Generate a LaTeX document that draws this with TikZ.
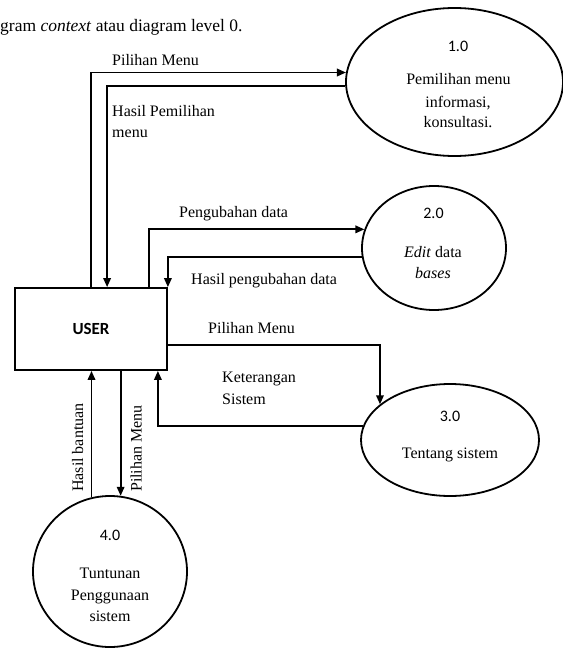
\documentclass[tikz,border=0pt]{standalone}
\usepackage{fontspec}
\setmainfont{Liberation Serif}
\newfontfamily\numfont{Carlito}
\usetikzlibrary{shapes.geometric,arrows.meta}
\begin{document}
\begin{tikzpicture}[x=1pt,y=-1pt,
  flow/.style={line width=1.8pt,-{Triangle[length=9pt,width=7.5pt]}},
  proc/.style={ellipse,draw,line width=1.8pt,inner sep=0pt},
  entity/.style={draw,line width=1.8pt,inner sep=0pt,font=\numfont\bfseries\fontsize{17}{21}\selectfont},
  lbl/.style={inner sep=0pt,font=\fontsize{16}{21}\selectfont},
  num/.style={inner sep=0pt,font=\numfont\fontsize{16}{21}\selectfont}]
\useasboundingbox (0,0) rectangle (562,658);

\node[lbl,anchor=base west,font=\fontsize{17.5}{21}\selectfont] (intro) at (0,32) {gram \textit{context} atau diagram level 0.};

% entity and processes
\node[entity,minimum width=152pt,minimum height=82pt] (user) at (91,329) {USER};
\node[proc,minimum width=217pt,minimum height=148pt] (e1) at (454.5,82) {};
\node[proc,minimum width=144pt,minimum height=124pt] (e2) at (434,248) {};
\node[proc,minimum width=178pt,minimum height=112pt] (e3) at (450,440) {};
\node[proc,minimum width=154pt,minimum height=151pt] (e4) at (110,571.5) {};

% process texts
\node[num,anchor=base] (t1a) at (458,52) {1.0};
\node[lbl,anchor=base] (t1b) at (458.5,85) {Pemilihan menu};
\node[lbl,anchor=base] (t1c) at (458,107) {informasi,};
\node[lbl,anchor=base] (t1d) at (458,128) {konsultasi.};

\node[num,anchor=base] (t2a) at (433.5,218) {2.0};
\node[lbl,anchor=base] (t2b) at (433,257) {\textit{Edit} data};
\node[lbl,anchor=base] (t2c) at (433,278) {\textit{bases}};

\node[num,anchor=base] (t3a) at (450,421) {3.0};
\node[lbl,anchor=base] (t3b) at (450,458) {Tentang sistem};

\node[num,anchor=base] (t4a) at (110,540) {4.0};
\node[lbl,anchor=base] (t4b) at (110,578) {Tuntunan};
\node[lbl,anchor=base] (t4c) at (110,600) {Penggunaan};
\node[lbl,anchor=base] (t4d) at (110,621) {sistem};

% flows
\draw[flow] ([xshift=77pt]user.north west) |- (e1.175);
\draw[flow] (e1.182) -| ([xshift=93pt]user.north west);
\draw[flow] ([xshift=135pt]user.north west) |- (e2.165);
\draw[flow] (e2.187) -| (user.north east);
\draw[flow] ([yshift=-16pt]user.east) -| (e3.153);
\draw[flow] (e3.171) -| ([xshift=-10pt]user.south east);
\draw[flow] (e4.104) -- (e4.104 |- user.south);
\draw[flow] (e4.82 |- user.south) -- (e4.82);

% flow labels
\node[lbl,anchor=base west] (f1) at (112,66) {Pilihan Menu};
\node[lbl,anchor=base west] (f2a) at (112,117) {Hasil Pemilihan};
\node[lbl,anchor=base west] (f2b) at (112,138) {menu};
\node[lbl,anchor=base west] (f3) at (179,217) {Pengubahan data};
\node[lbl,anchor=base west] (f4) at (191,284) {Hasil pengubahan data};
\node[lbl,anchor=base west] (f5) at (208,333) {Pilihan Menu};
\node[lbl,anchor=base west] (f6a) at (222,382) {Keterangan};
\node[lbl,anchor=base west] (f6b) at (222,404) {Sistem};
\node[lbl,anchor=base west,rotate=90] (f7) at (83,492) {Hasil bantuan};
\node[lbl,anchor=base west,rotate=90] (f8) at (141.5,492) {Pilihan Menu};
\end{tikzpicture}
\end{document}
